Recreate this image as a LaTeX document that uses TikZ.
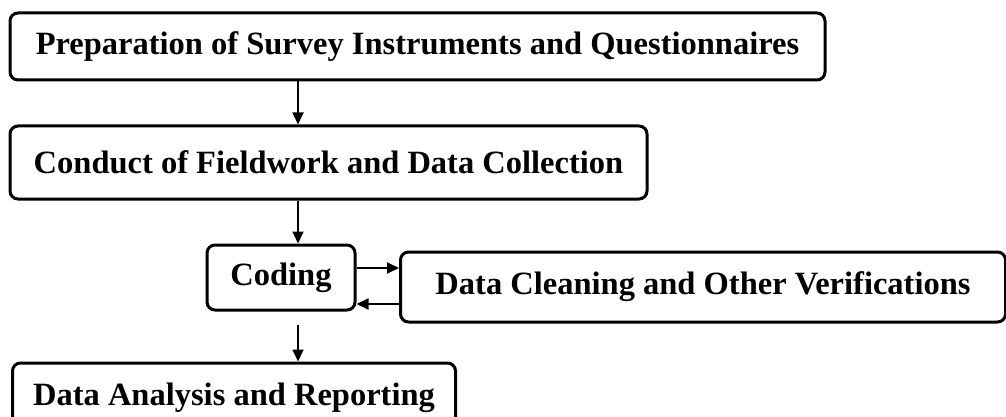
\documentclass[tikz,border=0pt]{standalone}
\usepackage{fontspec}
\setmainfont{Liberation Serif}
\usetikzlibrary{arrows.meta}
\begin{document}
\begin{tikzpicture}[x=1pt,y=-1pt,
  box/.style={draw=black, line width=3pt, rounded corners=8pt, align=center,
    font=\bfseries\fontsize{32.5}{36}\selectfont, inner sep=0pt},
  arr/.style={line width=1.8pt, -{Triangle[length=12pt,width=11pt]}}]
\useasboundingbox (0,0) rectangle (1006,417);
\clip (0,0) rectangle (1006,417);
\node[box, minimum width=815pt, minimum height=67pt] (b1) at (417.5,46.5) {Preparation of Survey Instruments and Questionnaires};
\node[box, minimum width=637pt, minimum height=73pt] (b2) at (328.5,162.5) {Conduct of Fieldwork and Data Collection};
\node[box, minimum width=148pt, minimum height=65pt] (b3) at (281,277.5) {Coding};
\node[box, minimum width=605pt, minimum height=70pt] (b4) at (703,287) {Data Cleaning and Other Verifications};
\node[box, minimum width=443pt, minimum height=70pt] (b5) at (234,398) {Data Analysis and Reporting};
\coordinate (ax) at (298,0);
\draw[arr] (b1.south -| ax) -- (b2.north -| ax);
\draw[arr] (b2.south -| ax) -- (b3.north -| ax);
\draw[arr] ([yshift=-13pt]b3.south -| ax) -- (b5.north -| ax);
\draw[arr] ([yshift=9.5pt]b3.east) -- ([yshift=9.5pt]b3.east -| b4.west);
\draw[arr] ([yshift=-17pt]b4.west) -- ([yshift=-17pt]b4.west -| b3.east);
\end{tikzpicture}
\end{document}
